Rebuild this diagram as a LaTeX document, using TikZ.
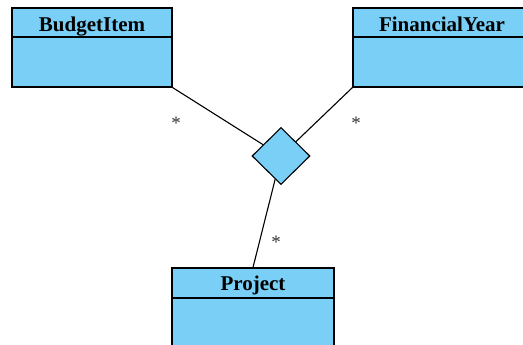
\documentclass[tikz,border=0pt]{standalone}
\usepackage{fontspec}
\setmainfont{Liberation Serif}
\usetikzlibrary{shapes.geometric}
\definecolor{umlblue}{HTML}{79CFF6}
\definecolor{stargray}{HTML}{333333}
\begin{document}
\begin{tikzpicture}[x=1pt,y=1pt,
  clsbox/.style={draw=black, fill=umlblue, line width=1.1pt, inner sep=0pt},
  clsname/.style={font=\fontsize{21}{24}\selectfont\bfseries, anchor=base, inner sep=0pt},
  assoc/.style={draw=black, fill=umlblue, line width=1.1pt, shape=diamond, inner sep=0pt, minimum width=58pt, minimum height=57pt},
  conn/.style={draw=black, line width=1.1pt},
  mult/.style={font=\fontsize{19}{22}\selectfont, text=stargray, inner sep=0pt}]
\useasboundingbox (0,0) rectangle (523,345);
\clip (0,0) rectangle (523,345);
% BudgetItem
\node[clsbox, minimum width=160pt, minimum height=79pt] (bi) at (92,297.5) {};
\draw[line width=1.1pt] (12,308) coordinate (bil) -- (172,308) coordinate (bir);
\node[clsname] (bit) at (92,313.5) {BudgetItem};
% FinancialYear
\node[clsbox, minimum width=178pt, minimum height=79pt] (fy) at (442,297.5) {};
\draw[line width=1.1pt] (353,308) coordinate (fyl) -- (531,308) coordinate (fyr);
\node[clsname] (fyt) at (442,313.5) {FinancialYear};
% Project
\node[clsbox, minimum width=162pt, minimum height=107pt] (pr) at (253,23.5) {};
\draw[line width=1.1pt] (172,47) coordinate (prl) -- (334,47) coordinate (prr);
\node[clsname] (prt) at (253,54.3) {Project};
% association diamond
\node[assoc] (d) at (281,189) {};
% connectors
\draw[conn] (bi.south east) -- (d);
\draw[conn] (fy.south west) -- (d);
\draw[conn] (pr.north) -- (d);
% multiplicities
\node[mult] (m1) at (176,221.5) {*};
\node[mult] (m2) at (356,221.5) {*};
\node[mult] (m3) at (276,102.5) {*};
\end{tikzpicture}
\end{document}
